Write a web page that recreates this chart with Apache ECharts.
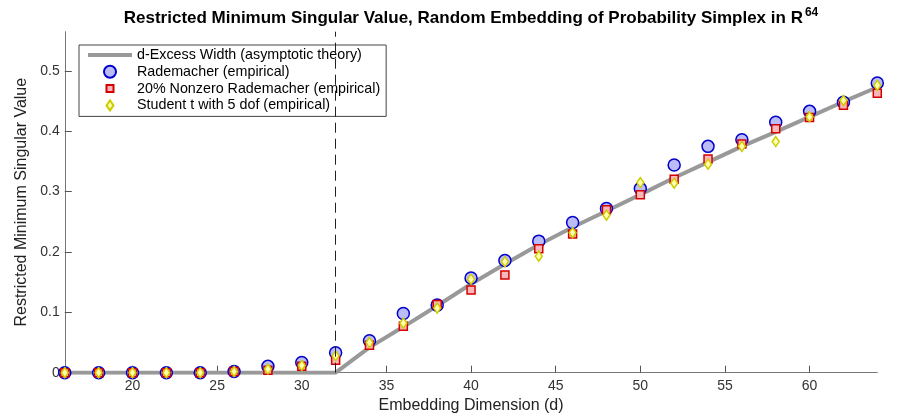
<!DOCTYPE html>
<html>
<head>
<meta charset="utf-8">
<title>index.html</title>
<script src="https://cdn.jsdelivr.net/npm/echarts@6/dist/echarts.min.js"></script>
<style>
  html, body { margin: 0; padding: 0; background: #fff; }
  #main { width: 900px; height: 419px; }
</style>
</head>
<body>
<div id="main"></div>
<script type="text/javascript">
    // embedding dimension d
    var dims = [16, 18, 20, 22, 24, 26, 28, 30, 32, 34, 36, 38, 40, 42, 44, 46, 48, 50, 52, 54, 56, 58, 60, 62, 64];
    // d-excess width curve (asymptotic theory)
    var theory = [0, 0, 0, 0, 0, 0, 0, 0, 0, 0.042, 0.076, 0.111, 0.147, 0.180, 0.212, 0.241, 0.268, 0.295, 0.323, 0.349, 0.375, 0.399, 0.424, 0.449, 0.473];
    // empirical values
    var rademacher = [0, 0, 0, 0, 0, 0.002, 0.0105, 0.017, 0.033, 0.053, 0.098, 0.112, 0.157, 0.186, 0.218, 0.249, 0.272, 0.305, 0.344, 0.375, 0.386, 0.415, 0.433, 0.448, 0.480];
    var sparseRademacher = [0, 0, 0, 0, 0, 0.002, 0.004, 0.0105, 0.0205, 0.0455, 0.077, 0.113, 0.137, 0.162, 0.2055, 0.230, 0.270, 0.295, 0.3205, 0.354, 0.379, 0.404, 0.423, 0.443, 0.463];
    var studentT = [0, 0, 0, 0, 0, 0.002, 0.006, 0.012, 0.028, 0.050, 0.082, 0.107, 0.155, 0.184, 0.193, 0.232, 0.261, 0.315, 0.314, 0.3455, 0.375, 0.383, 0.424, 0.451, 0.476];

    var seriesNames = [
        'd-Excess Width (asymptotic theory)',
        'Rademacher (empirical)',
        '20% Nonzero Rademacher (empirical)',
        'Student t with 5 dof (empirical)'
    ];
    var xTicks = [20, 25, 30, 35, 40, 45, 50, 55, 60];
    var yTicks = [0, 0.1, 0.2, 0.3, 0.4, 0.5];
    var threshold = 32;

    function pairs(ys) {
        return dims.map(function (d, i) { return [d, ys[i]]; });
    }

    var font = 'Liberation Sans, Arial, Helvetica, sans-serif';
    var myChart = echarts.init(document.getElementById('main'));

    myChart.setOption({
        animation: false,
        textStyle: { fontFamily: font },
        title: {
            text: '{a|Restricted Minimum Singular Value, Random Embedding of Probability Simplex in R}{s|64}',
            left: 471,
            textAlign: 'center',
            top: 7,
            padding: 0,
            textStyle: {
                rich: {
                    a: { fontSize: 17, fontWeight: 'bold', color: '#000', fontFamily: font, lineHeight: 23 },
                    s: { fontSize: 12, fontWeight: 'bold', color: '#000', fontFamily: font, lineHeight: 12, verticalAlign: 'top', padding: [0, 0, 0, 2] }
                }
            }
        },
        grid: {
            left: 64.8, right: 22.7, top: 31.7, bottom: 46.3,
            containLabel: false,
            outerBoundsMode: 'none'
        },
        legend: {
            orient: 'vertical',
            left: 79,
            top: 45,
            padding: [2, 6, 3, 9],
            itemWidth: 44,
            itemHeight: 12,
            itemGap: 0.8,
            borderColor: '#444',
            borderWidth: 1,
            backgroundColor: '#fff',
            textStyle: { fontSize: 14.3, color: '#000', fontFamily: font, lineHeight: 16 },
            data: [
                { name: seriesNames[0], icon: 'path://M0,0M44,12M0,4L44,4L44,8L0,8Z', itemStyle: { color: '#999', borderWidth: 0 } },
                { name: seriesNames[1], icon: 'circle' },
                { name: seriesNames[2], icon: 'path://M0,0M12,12M2.5,2.5L9.5,2.5L9.5,9.5L2.5,9.5Z' },
                { name: seriesNames[3], icon: 'path://M0,0M12,12M6,1L9.5,6L6,11L2.5,6Z' }
            ]
        },
        xAxis: {
            type: 'value',
            min: 16,
            max: 64,
            name: 'Embedding Dimension (d)',
            nameLocation: 'middle',
            nameGap: 21,
            nameTextStyle: { fontSize: 16, color: '#222', fontFamily: font },
            axisLine: { show: true, onZero: false, lineStyle: { color: '#777', width: 1 } },
            axisTick: { show: true, inside: true, length: 7, customValues: xTicks, lineStyle: { color: '#555' } },
            axisLabel: { fontSize: 14, color: '#333', margin: 6, customValues: xTicks },
            splitLine: { show: false }
        },
        yAxis: {
            type: 'value',
            min: 0,
            max: 0.565,
            name: 'Restricted Minimum Singular Value',
            nameLocation: 'middle',
            nameGap: 29,
            nameTextStyle: { fontSize: 16, color: '#222', fontFamily: font },
            axisLine: { show: true, lineStyle: { color: '#777', width: 1 } },
            axisTick: { show: true, inside: true, length: 7, customValues: yTicks, lineStyle: { color: '#555' } },
            axisLabel: {
                fontSize: 14, color: '#333', margin: 5, customValues: yTicks,
                formatter: function (v) { return v === 0 ? '0' : v.toFixed(1); }
            },
            splitLine: { show: false }
        },
        series: [
            {
                name: seriesNames[0],
                type: 'line',
                data: pairs(theory),
                symbol: 'none',
                z: 1,
                lineStyle: { color: '#999', width: 4 },
                itemStyle: { color: '#999' },
                markLine: {
                    silent: true,
                    symbol: ['none', 'none'],
                    label: { show: false },
                    lineStyle: { color: '#222', type: [10, 6], width: 1 },
                    data: [{ xAxis: threshold }]
                }
            },
            {
                name: seriesNames[1],
                type: 'scatter',
                data: pairs(rademacher),
                symbol: 'circle',
                symbolSize: 12,
                z: 2,
                itemStyle: { color: '#bbbbf6', borderColor: '#0000cc', borderWidth: 1.5, opacity: 1 }
            },
            {
                name: seriesNames[2],
                type: 'scatter',
                data: pairs(sparseRademacher),
                symbol: 'rect',
                symbolSize: 8,
                z: 3,
                itemStyle: { color: '#f6b8b8', borderColor: '#d40000', borderWidth: 1.5, opacity: 1 }
            },
            {
                name: seriesNames[3],
                type: 'scatter',
                data: pairs(studentT),
                symbol: 'diamond',
                symbolSize: [7, 10],
                z: 4,
                itemStyle: { color: '#ffffb0', borderColor: '#cccc00', borderWidth: 1.5, opacity: 1 }
            }
        ]
    });
</script>
</body>
</html>
